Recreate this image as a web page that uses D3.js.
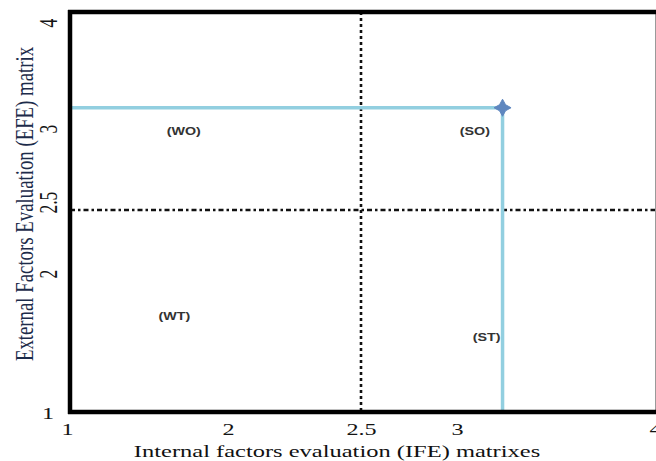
<!DOCTYPE html>
<html>
<head>
<meta charset="utf-8">
<script src="https://cdn.jsdelivr.net/npm/d3@7"></script>
<style>
  html, body { margin: 0; padding: 0; background: #fff; }
  svg { display: block; }
</style>
</head>
<body>
<svg id="chart" width="656" height="461"></svg>
<script>
// ---- data ----
const xTickValues = [1, 2, 2.5, 3, 4];
const yTickValues = [1, 2, 2.5, 3, 4];
const xTitle = "Internal factors evaluation (IFE) matrixes";
const yTitle = "External Factors Evaluation (EFE) matrix";
const ifeScore = [3.23];
const efeScore = [3.21];
const dividerX = [2.5];
const dividerY = [2.5];
const quadrantNames = ["(WO)", "(SO)", "(WT)", "(ST)"];
const quadrantX = [1.72, 3.09, 1.66, 3.15];
const quadrantY = [2.99, 2.99, 1.70, 1.55];

// ---- layout ----
const W = 656, H = 461;
const frame = { left: 70, right: 655.5, top: 12, bottom: 412 };
const svg = d3.select("#chart");

// picture uses an uneven (piecewise) axis spacing
const x = d3.scaleLinear().domain([1, 2, 2.5, 3, 4]).range([70, 228, 361, 457, 655]);
const y = d3.scaleLinear().domain([1, 2, 2.5, 3, 4]).range([412, 275, 210, 130, 24]);

const serif = "'Liberation Serif', 'Times New Roman', serif";
const stretch = 1.38;

// dotted dividers
svg.selectAll("line.divx").data(dividerX).enter().append("line")
  .attr("x1", d => x(d)).attr("x2", d => x(d))
  .attr("y1", frame.top).attr("y2", frame.bottom)
  .attr("stroke", "#111").attr("stroke-width", 2.6)
  .attr("stroke-dasharray", "3,3");
svg.selectAll("line.divy").data(dividerY).enter().append("line")
  .attr("x1", frame.left).attr("x2", W)
  .attr("y1", d => y(d)).attr("y2", d => y(d))
  .attr("stroke", "#111").attr("stroke-width", 2.6)
  .attr("stroke-dasharray", "5,3,2.5,3");

// score lines
const pts = ifeScore.map((v, i) => [v, efeScore[i]]);
const line = d3.line().x(d => x(d[0])).y(d => y(d[1]));
pts.forEach(p => {
  svg.append("path")
    .attr("d", line([[1, p[1]], [p[0], p[1]], [p[0], 1]]))
    .attr("fill", "none")
    .attr("stroke", "#92cfe0")
    .attr("stroke-width", 3.5);
});

// sparkle marker
const sparkle = {
  draw(ctx, size) {
    const r = Math.sqrt(size) / 2, ri = r * 0.5;
    for (let k = 0; k < 8; k++) {
      const a = k * Math.PI / 4 - Math.PI / 2;
      const rr = k % 2 === 0 ? r : ri;
      const px = rr * Math.cos(a), py = rr * Math.sin(a);
      if (k === 0) ctx.moveTo(px, py); else ctx.lineTo(px, py);
    }
    ctx.closePath();
  }
};
svg.selectAll("path.pt").data(pts).enter().append("path")
  .attr("d", d3.symbol().type(sparkle).size(290))
  .attr("transform", d => `translate(${x(d[0])},${y(d[1])})`)
  .attr("fill", "#5f87bf")
  .attr("stroke", "#5f87bf").attr("stroke-width", 1).attr("stroke-linejoin", "round");

// frame
svg.append("line").attr("x1", frame.right).attr("x2", frame.right)
  .attr("y1", frame.top).attr("y2", frame.bottom)
  .attr("stroke", "#9a9a9a").attr("stroke-width", 1);
svg.append("line").attr("x1", frame.left - 2).attr("x2", W)
  .attr("y1", frame.top).attr("y2", frame.top)
  .attr("stroke", "#000").attr("stroke-width", 4.5);
svg.append("line").attr("x1", frame.left - 2).attr("x2", W)
  .attr("y1", frame.bottom).attr("y2", frame.bottom)
  .attr("stroke", "#000").attr("stroke-width", 4.5);
svg.append("line").attr("x1", frame.left).attr("x2", frame.left)
  .attr("y1", frame.top - 2).attr("y2", frame.bottom + 2)
  .attr("stroke", "#000").attr("stroke-width", 4.5);

// x axis
const xAxis = svg.append("g")
  .attr("transform", `translate(0,${frame.bottom})`)
  .call(d3.axisBottom(x).tickValues(xTickValues).tickSize(0).tickPadding(11)
    .tickFormat(d => String(d)));
xAxis.select(".domain").remove();
xAxis.selectAll("text")
  .attr("font-family", serif).attr("font-size", 17.5).attr("fill", "#141414")
  .attr("transform", d => `translate(${d === 1 ? -3 : 0},0) scale(${stretch},1)`);

// y axis
const yAxis = svg.append("g")
  .attr("transform", `translate(${frame.left},0)`)
  .call(d3.axisLeft(y).tickValues(yTickValues).tickSize(0)
    .tickFormat(d => String(d)));
yAxis.select(".domain").remove();
yAxis.selectAll("text")
  .attr("font-family", serif).attr("font-size", 17.5).attr("fill", "#141414")
  .each(function(d) {
    const t = d3.select(this);
    if (d === 1) {
      t.attr("x", 0).attr("dy", "0.35em").attr("text-anchor", "middle")
        .attr("transform", `translate(-22,0) scale(${stretch},1)`);
    } else {
      t.attr("x", 0).attr("y", 0).attr("dy", 0).attr("text-anchor", "start")
        .attr("transform", `translate(-13,3) scale(${stretch},1) rotate(-90)`);
    }
  });

// quadrant labels
svg.selectAll("text.quad").data(quadrantNames).enter().append("text")
  .attr("transform", (d, i) => `translate(${x(quadrantX[i])},${y(quadrantY[i])}) scale(1.3,1)`)
  .attr("text-anchor", "middle").attr("dy", "0.35em")
  .attr("font-family", "'Liberation Sans', Arial, sans-serif")
  .attr("font-weight", "bold").attr("font-size", 11).attr("fill", "#333")
  .text(d => d);

// axis titles
svg.append("text")
  .attr("transform", `translate(337,457) scale(1.4,1)`)
  .attr("text-anchor", "middle")
  .attr("font-family", serif).attr("font-size", 17.5).attr("fill", "#111")
  .text(xTitle);
svg.append("text")
  .attr("transform", `translate(33,204) scale(1.3,1) rotate(-90)`)
  .attr("text-anchor", "middle")
  .attr("font-family", serif).attr("font-size", 18.8).attr("fill", "#1c2b4a")
  .text(yTitle);
</script>
</body>
</html>
